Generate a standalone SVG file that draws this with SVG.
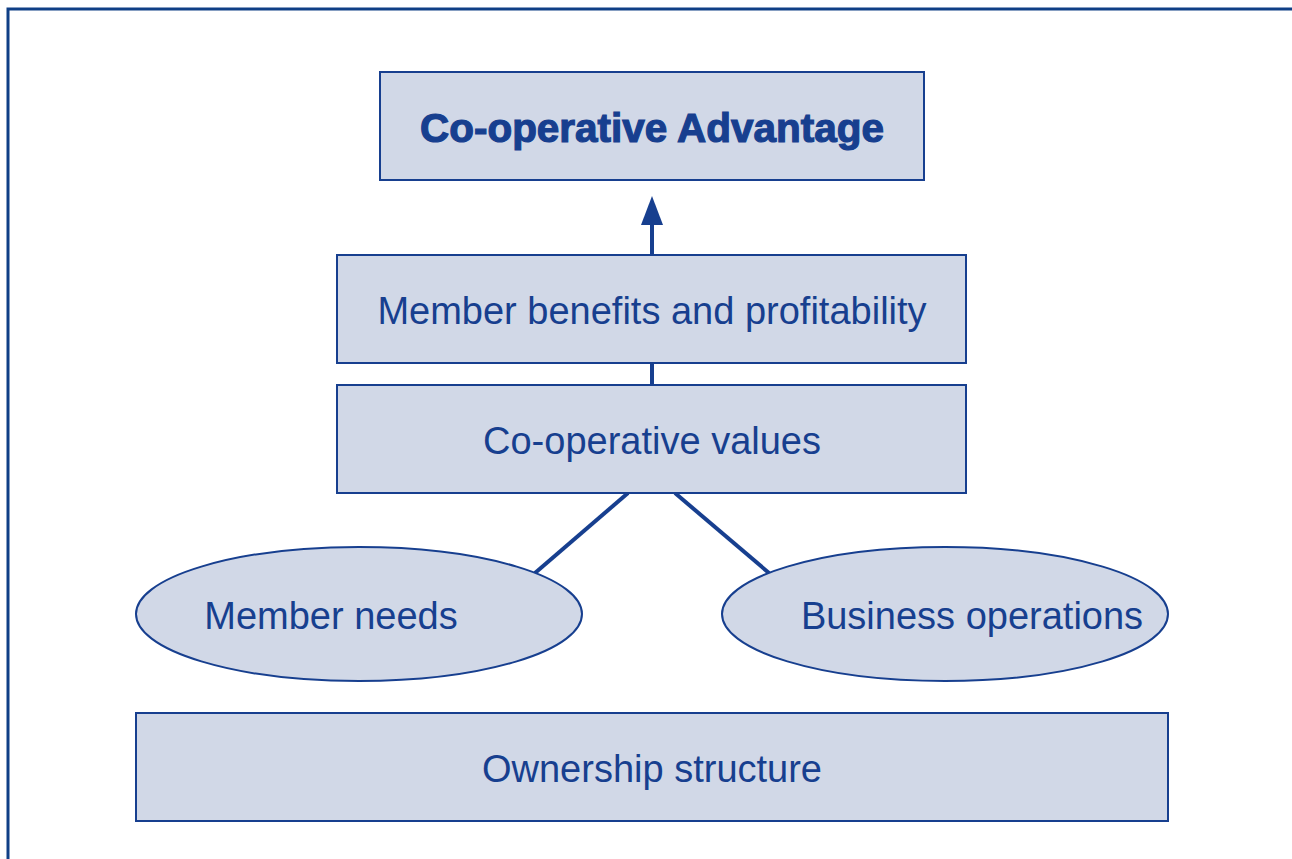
<svg xmlns="http://www.w3.org/2000/svg" width="1292" height="859" viewBox="0 0 1292 859">
<style>
.box{fill:#d1d8e7;stroke:#173f8f;stroke-width:2}
.t{font-family:"Liberation Sans",Arial,sans-serif;font-size:38px;fill:#173f8f;text-anchor:middle}
.b{font-weight:bold;font-size:40px;stroke:#173f8f;stroke-width:1.2}
.c{stroke:#173f8f;stroke-width:4;fill:none}
</style>
<rect width="1292" height="859" fill="#ffffff"/>
<path d="M8,859 V9 H1292" fill="none" stroke="#0f3f86" stroke-width="3"/>
<g id="connectors">
<line class="c" x1="652" y1="255" x2="652" y2="224"/>
<path d="M641,225 L663,225 L652,196 Z" fill="#173f8f"/>
<line class="c" x1="652" y1="363" x2="652" y2="385"/>
<line class="c" x1="628" y1="493" x2="535" y2="573"/>
<line class="c" x1="675" y1="493" x2="769" y2="573"/>
</g>
<g id="advantage">
<rect class="box" x="380" y="72" width="544" height="108"/>
<text class="t b" x="652" y="142" textLength="464" lengthAdjust="spacingAndGlyphs">Co-operative Advantage</text>
</g>
<g id="benefits">
<rect class="box" x="337" y="255" width="629" height="108"/>
<text class="t" x="652" y="324">Member benefits and profitability</text>
</g>
<g id="values">
<rect class="box" x="337" y="385" width="629" height="108"/>
<text class="t" x="652" y="454">Co-operative values</text>
</g>
<g id="needs">
<ellipse class="box" cx="359" cy="614" rx="223" ry="67"/>
<text class="t" x="331" y="629">Member needs</text>
</g>
<g id="operations">
<ellipse class="box" cx="945" cy="614" rx="223" ry="67"/>
<text class="t" x="972" y="629">Business operations</text>
</g>
<g id="ownership">
<rect class="box" x="136" y="713" width="1032" height="108"/>
<text class="t" x="652" y="782">Ownership structure</text>
</g>
</svg>
